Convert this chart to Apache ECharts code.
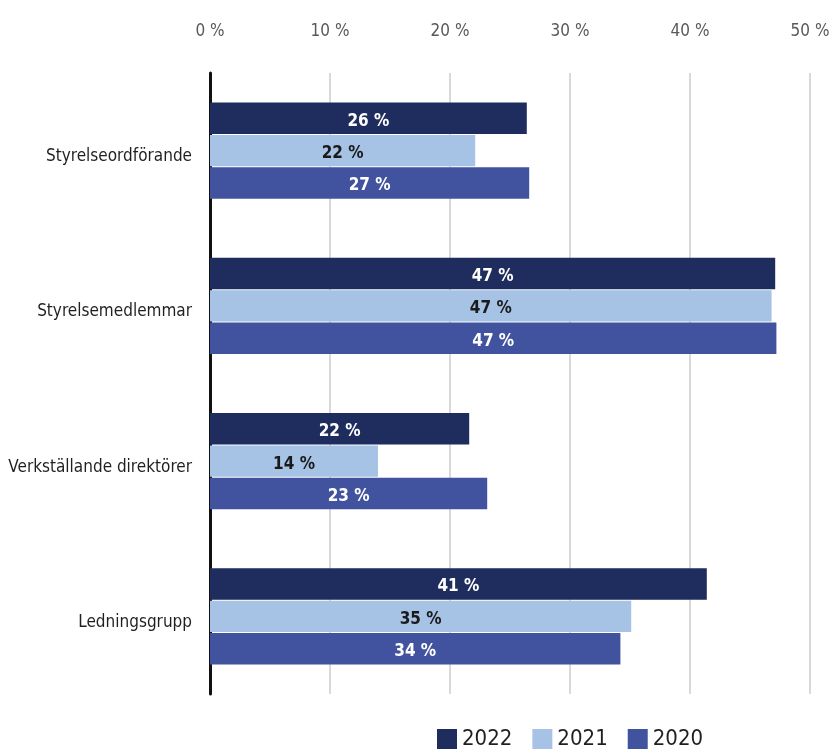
<!DOCTYPE html>
<html>
<head>
<meta charset="utf-8">
<script src="https://cdn.jsdelivr.net/npm/echarts@6/dist/echarts.min.js"></script>
<style>
  html, body { margin: 0; padding: 0; background: #fff; }
  #chart { width: 836px; height: 755px; }
</style>
</head>
<body>
<div id="chart"></div>
<script>
const categories = ['Styrelseordförande', 'Styrelsemedlemmar', 'Verkställande direktörer', 'Ledningsgrupp'];
const years = ['2022', '2021', '2020'];
const values2022 = [26.4, 47.1, 21.6, 41.4];
const values2021 = [22.1, 46.8, 14.0, 35.1];
const values2020 = [26.6, 47.2, 23.1, 34.2];
const colors = ['#1f2d5e', '#a6c3e6', '#41529e'];
const labelColors = ['#ffffff', '#1a1a1a', '#ffffff'];

const font = '"Liberation Sans Narrow", "DejaVu Sans Condensed", sans-serif';

const makeSeries = (name, data, i) => ({
  name: name,
  type: 'bar',
  data: data,
  barGap: '3%',
  barCategoryGap: '38%',
  itemStyle: { color: colors[i] },
  label: {
    show: true,
    position: 'inside',
    offset: [0, 3],
    formatter: p => Math.round(p.value) + ' %',
    color: labelColors[i],
    fontFamily: font,
    fontWeight: 'bold',
    fontSize: 17
  }
});

const chart = echarts.init(document.getElementById('chart'));
chart.setOption({
  animation: false,
  textStyle: { fontFamily: font },
  grid: { left: 210, right: 26, top: 73, bottom: 61, outerBoundsMode: 'none', containLabel: false },
  legend: {
    bottom: 0,
    left: 432,
    itemWidth: 20,
    itemHeight: 20,
    itemGap: 20,
    icon: 'rect',
    textStyle: { fontFamily: font, fontSize: 22, color: '#231f20' },
    data: years
  },
  xAxis: {
    type: 'value',
    position: 'top',
    min: 0,
    max: 50,
    interval: 10,
    axisLine: { show: false },
    axisTick: { show: false },
    axisLabel: { formatter: '{value} %', color: '#595959', fontSize: 17, fontFamily: font, margin: 33 },
    splitLine: { lineStyle: { color: '#d9d9d9', width: 2 } }
  },
  yAxis: {
    type: 'category',
    inverse: true,
    data: categories,
    axisLine: { lineStyle: { color: '#111', width: 3 } },
    axisTick: { show: false },
    axisLabel: { color: '#231f20', fontSize: 17, fontFamily: font, margin: 18, verticalAlign: 'top', lineHeight: 12 }
  },
  series: [
    makeSeries(years[0], values2022, 0),
    makeSeries(years[1], values2021, 1),
    makeSeries(years[2], values2020, 2)
  ]
});
</script>
</body>
</html>
